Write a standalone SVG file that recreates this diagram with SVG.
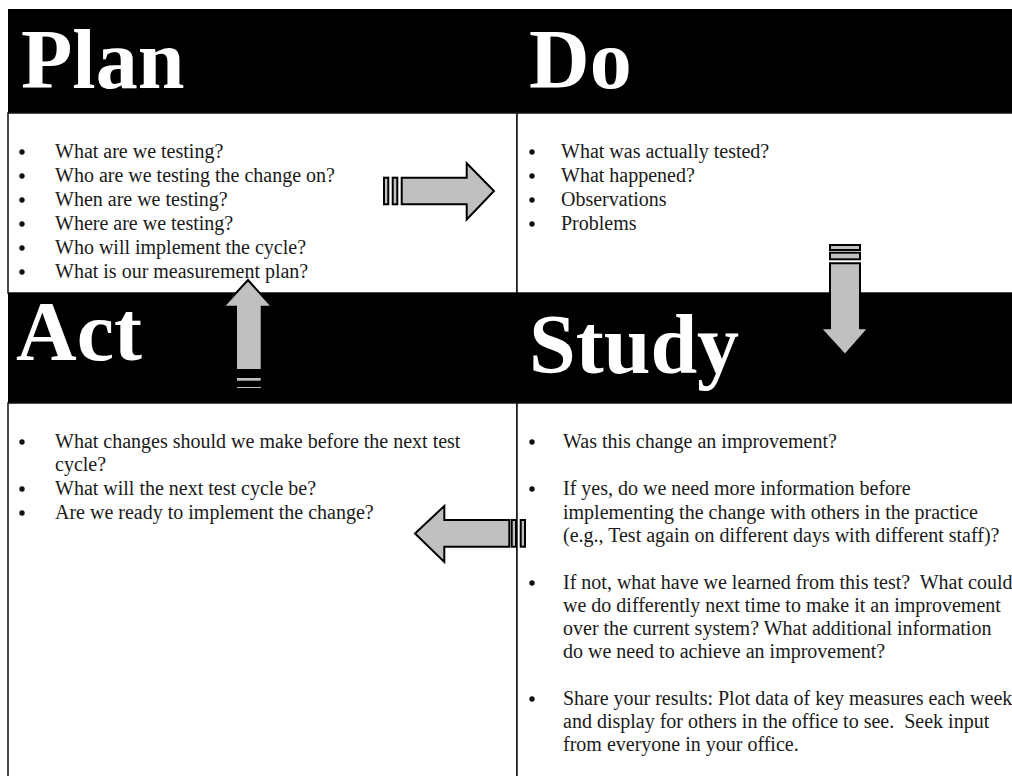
<svg xmlns="http://www.w3.org/2000/svg" width="1012" height="776" viewBox="0 0 1012 776">
<style>
.band{fill:#000}
.box{fill:#fff;stroke:#111;stroke-width:1.5}
.title{font-family:"Liberation Serif","Times New Roman",serif;font-weight:bold;font-size:84px;fill:#fff}
.txt{font-family:"Liberation Serif","Times New Roman",serif;font-size:20px;fill:#1a1a1a}
.dot{fill:#111}
.arrow{fill:#c0c0c0;stroke:#000;stroke-width:2;stroke-linejoin:miter}
</style>
<rect x="0" y="0" width="1012" height="776" fill="#fff"/>
<g id="plan">
  <rect class="band" x="8" y="9" width="509" height="104"/>
  <rect class="box" x="8" y="113" width="509" height="180"/>
  <text class="title" x="21" y="88">Plan</text>
  <g class="txt">
    <text x="55" y="158">What are we testing?</text>
    <text x="55" y="182">Who are we testing the change on?</text>
    <text x="55" y="206">When are we testing?</text>
    <text x="55" y="230">Where are we testing?</text>
    <text x="55" y="254">Who will implement the cycle?</text>
    <text x="55" y="278">What is our measurement plan?</text>
  </g>
  <g class="dot">
    <circle cx="22" cy="152" r="2.7"/><circle cx="22" cy="176" r="2.7"/><circle cx="22" cy="200" r="2.7"/>
    <circle cx="22" cy="224" r="2.7"/><circle cx="22" cy="248" r="2.7"/><circle cx="22" cy="272" r="2.7"/>
  </g>
</g>
<g id="do">
  <rect class="band" x="517" y="9" width="500" height="104"/>
  <rect class="box" x="517" y="113" width="500" height="180"/>
  <text class="title" x="529" y="88">Do</text>
  <g class="txt">
    <text x="561" y="158">What was actually tested?</text>
    <text x="561" y="182">What happened?</text>
    <text x="561" y="206">Observations</text>
    <text x="561" y="230">Problems</text>
  </g>
  <g class="dot">
    <circle cx="532" cy="152" r="2.7"/><circle cx="532" cy="176" r="2.7"/><circle cx="532" cy="200" r="2.7"/><circle cx="532" cy="224" r="2.7"/>
  </g>
</g>
<g id="act">
  <rect class="band" x="8" y="293" width="509" height="110"/>
  <rect class="box" x="8" y="403" width="509" height="380"/>
  <text class="title" x="16" y="360">Act</text>
  <g class="txt">
    <text x="55" y="448">What changes should we make before the next test</text>
    <text x="55" y="471">cycle?</text>
    <text x="55" y="495">What will the next test cycle be?</text>
    <text x="55" y="519">Are we ready to implement the change?</text>
  </g>
  <g class="dot">
    <circle cx="22" cy="442" r="2.7"/><circle cx="22" cy="489" r="2.7"/><circle cx="22" cy="513" r="2.7"/>
  </g>
</g>
<g id="study">
  <rect class="band" x="517" y="293" width="500" height="110"/>
  <rect class="box" x="517" y="403" width="500" height="380"/>
  <text class="title" x="529" y="373">Study</text>
  <g class="txt">
    <text x="563" y="448">Was this change an improvement?</text>
    <text x="563" y="495">If yes, do we need more information before</text>
    <text x="563" y="519">implementing the change with others in the practice</text>
    <text x="563" y="542">(e.g., Test again on different days with different staff)?</text>
    <text x="563" y="589" xml:space="preserve">If not, what have we learned from this test?  What could</text>
    <text x="563" y="612">we do differently next time to make it an improvement</text>
    <text x="563" y="635">over the current system? What additional information</text>
    <text x="563" y="658">do we need to achieve an improvement?</text>
    <text x="563" y="705">Share your results: Plot data of key measures each week</text>
    <text x="563" y="728" xml:space="preserve">and display for others in the office to see.  Seek input</text>
    <text x="563" y="751">from everyone in your office.</text>
  </g>
  <g class="dot">
    <circle cx="532" cy="442" r="2.7"/><circle cx="532" cy="489" r="2.7"/><circle cx="532" cy="583" r="2.7"/><circle cx="532" cy="699" r="2.7"/>
  </g>
</g>
<g id="connectors">
  <g id="plan-to-do">
    <rect class="arrow" x="384" y="177.7" width="4.3" height="26.6"/>
    <rect class="arrow" x="392.7" y="177.7" width="4.6" height="26.6"/>
    <polygon class="arrow" points="401.7,177.7 466.7,177.7 466.7,163.3 494,191 466.7,219.5 466.7,204.3 401.7,204.3"/>
  </g>
  <g id="do-to-study">
    <rect class="arrow" x="830" y="245" width="30" height="5"/>
    <rect class="arrow" x="830" y="252.7" width="30" height="6.6"/>
    <polygon class="arrow" points="830,263.3 860,263.3 860,328.3 868.3,328.3 845,355 820.7,328.3 830,328.3"/>
  </g>
  <g id="study-to-act">
    <rect class="arrow" x="511.7" y="520" width="4.3" height="26.7"/>
    <rect class="arrow" x="520.7" y="520" width="4.3" height="26.7"/>
    <polygon class="arrow" points="509.3,520 444.3,520 444.3,506 415,533.5 444.3,562 444.3,546.7 509.3,546.7"/>
  </g>
  <g id="act-to-plan">
    <rect class="arrow" x="236" y="377" width="25.7" height="4.7"/>
    <rect class="arrow" x="236" y="386" width="25.7" height="3"/>
    <polygon class="arrow" points="236,370 236,306.7 223.3,306.7 248,280 272,306.7 261.7,306.7 261.7,370"/>
  </g>
</g>
</svg>
